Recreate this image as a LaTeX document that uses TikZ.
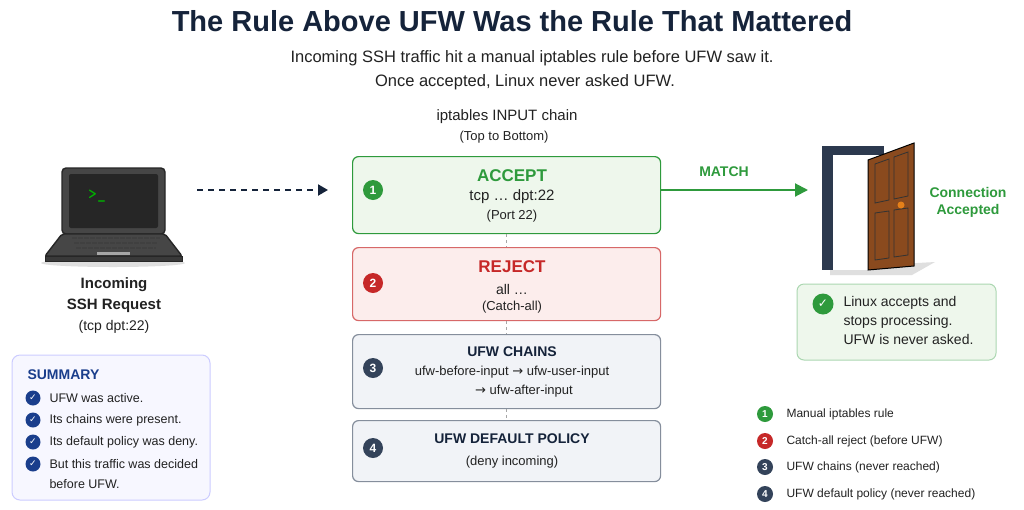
\documentclass[tikz,border=0pt]{standalone}
\usepackage{fontspec}
\setmainfont{Liberation Sans}
\newfontfamily\sym{DejaVu Sans}
\usetikzlibrary{arrows.meta,positioning}
\definecolor{navy}{HTML}{15233A}
\definecolor{gr}{HTML}{2E9A3C}
\definecolor{grfill}{HTML}{EEF7EC}
\definecolor{rd}{HTML}{C62828}
\definecolor{rdfill}{HTML}{FCEDEC}
\definecolor{sl}{HTML}{34435A}
\definecolor{slfill}{HTML}{F1F3F7}
\definecolor{bl}{HTML}{1A3E8C}
\definecolor{txt}{HTML}{222222}
\definecolor{wood}{HTML}{8A4A1E}
\begin{document}
\begin{tikzpicture}[x=1pt,y=-1pt,
 fs/.style={font=\fontsize{#1}{#1}\selectfont},
 rule/.style={draw=#1,line width=1.2pt,rounded corners=6pt,minimum width=308pt,anchor=north west,inner sep=0},
 num/.style={circle,fill=#1,text=white,inner sep=0,minimum size=20pt,font=\fontsize{12}{12}\selectfont\bfseries},
 lnum/.style={circle,fill=#1,text=white,inner sep=0,minimum size=16pt,font=\fontsize{10}{10}\selectfont\bfseries},
 chk/.style 2 args={circle,fill=#1,text=white,inner sep=0,minimum size=#2,font=\sym\fontsize{9}{9}\selectfont\bfseries},
 lt/.style={anchor=west,fs=12.5,text=txt},
]
\useasboundingbox (0,0) rectangle (1024,509);
\fill[white] (0,0) rectangle (1024,509);
\node[font=\bfseries\fontsize{29}{29}\selectfont,text=navy] (title) at (512,21) {The Rule Above UFW Was the Rule That Mattered};
\node[fs=16.5,text=txt] (sub1) at (532,58) {Incoming SSH traffic hit a manual iptables rule before UFW saw it.};
\node[fs=16.5,text=txt] (sub2) at (525,82) {Once accepted, Linux never asked UFW.};
\node[fs=15,text=txt] (chain) at (507,117) {iptables INPUT chain};
\node[fs=13,text=txt] (ttb) at (504,137) {(Top to Bottom)};
% rule boxes
\node[rule=gr,fill=grfill,minimum height=77pt] (r1) at (352,156) {};
\node[rule=rd!70,fill=rdfill,minimum height=73pt] (r2) at (352,247) {};
\node[rule=sl!60,fill=slfill,minimum height=74pt] (r3) at (352,334) {};
\node[rule=sl!60,fill=slfill,minimum height=61pt] (r4) at (352,420) {};
\draw[gray!70,dashed,line width=0.8pt] (r1.south) -- (r2.north);
\draw[gray!70,dashed,line width=0.8pt] (r2.south) -- (r3.north);
\draw[gray!70,dashed,line width=0.8pt] (r3.south) -- (r4.north);
\node[num=gr] (n1) at (373,190) {1};
\node[num=rd] (n2) at (373,283) {2};
\node[num=sl] (n3) at (373,368) {3};
\node[num=sl] (n4) at (373,448) {4};
\node[font=\bfseries\fontsize{17}{17}\selectfont,text=gr] (a1) at (512,176) {ACCEPT};
\node[fs=15,text=txt] (a2) at (512,197) {tcp \dots\ dpt:22};
\node[fs=13,text=txt] (a3) at (512,216) {(Port 22)};
\node[font=\bfseries\fontsize{17}{17}\selectfont,text=rd] (b1) at (512,267) {REJECT};
\node[fs=14,text=txt] (b2) at (512,289) {all \dots};
\node[fs=13,text=txt] (b3) at (512,307) {(Catch-all)};
\node[font=\bfseries\fontsize{14}{14}\selectfont,text=navy] (c1) at (512,352) {UFW CHAINS};
\node[fs=13,text=txt] (c2) at (512,372) {ufw-before-input {\sym→} ufw-user-input};
\node[fs=13,text=txt] (c3) at (524,391) {{\sym→} ufw-after-input};
\node[font=\bfseries\fontsize{14}{14}\selectfont,text=navy] (d1) at (512,439) {UFW DEFAULT POLICY};
\node[fs=13,text=txt] (d2) at (512,462) {(deny incoming)};
% laptop
\fill[gray!25] (113,263) ellipse (72 and 4);
\draw[fill=gray!55!black,line width=1.4pt,rounded corners=4pt,draw=black!85] (62,168) rectangle (165,234);
\fill[black!85,rounded corners=2pt] (69,174) rectangle (158,228);
\draw[fill=gray!55!black,draw=black!85,line width=1.4pt,rounded corners=2pt] (62,234) -- (165,234) -- (182,256) -- (45,256) -- cycle;
\draw[fill=gray!45!black,draw=black!85,line width=1pt] (45,256) rectangle (182,261);
\foreach \y in {238,243,248}{\draw[black!75,line width=2.5pt,dash pattern=on 5pt off 1pt] (72+0.4*\y-95,\y) -- (160-0.4*\y+95,\y);}
\fill[gray!70] (97,252) rectangle (130,255);
\node[text=green!70!black,font=\ttfamily\bfseries\fontsize{17}{17}\selectfont] (prompt) at (97,196) {>\_};
\coordinate (lap) at (197,190);
\node[font=\bfseries\fontsize{15}{15}\selectfont,text=txt] (in1) at (114,285) {Incoming};
\node[font=\bfseries\fontsize{15}{15}\selectfont,text=txt] (in2) at (114,306) {SSH Request};
\node[fs=14,text=txt] (in3) at (114,327) {(tcp dpt:22)};
\draw[navy,line width=2pt,dash pattern=on 6pt off 5pt,-{Triangle[length=10pt,width=11pt]}] (lap) -- (328,190);
% summary
\draw[draw=blue!20,fill=blue!3,line width=1pt,rounded corners=8pt] (12,355) rectangle (210,500);
\node[anchor=west,font=\bfseries\fontsize{14}{14}\selectfont,text=bl] (sum) at (24,375) {SUMMARY};
\foreach \y/\t [count=\i] in {398/UFW was active.,420/Its chains were present.,442/Its default policy was deny.,464/But this traffic was decided}{
 \node[chk={bl}{15pt}] (s\i) at (33,\y) {✓};
 \node[lt] (st\i) at (46,\y) {\t};}
\node[lt] (st5) at (46,484) {before UFW.};
% match
\coordinate (m0) at (660,190);
\coordinate (door) at (808,190);
\draw[gr,line width=2pt,-{Triangle[length=13pt,width=13pt]}] (m0) -- (door);
\node[font=\bfseries\fontsize{14}{14}\selectfont,text=gr] (match) at (724,172) {MATCH};
% door
\fill[gray!25] (830,268) -- (935,262) -- (912,275) -- (830,275) -- cycle;
\fill[navy!90] (822,146) rectangle (884,155);
\fill[navy!90] (822,146) rectangle (833,270);
\fill[white] (833,155) rectangle (868,270);
\draw[black,line width=1pt,fill=wood] (868,160) -- (914,143) -- (914,266) -- (868,270) -- cycle;
\draw[black!80,line width=0.8pt] (875,164) -- (889,159) -- (889,200) -- (875,203) -- cycle;
\draw[black!80,line width=0.8pt] (894,157) -- (908,152) -- (908,196) -- (894,199) -- cycle;
\draw[black!80,line width=0.8pt] (875,213) -- (889,211) -- (889,258) -- (875,260) -- cycle;
\draw[black!80,line width=0.8pt] (894,210) -- (908,208) -- (908,255) -- (894,257) -- cycle;
\fill[orange!60!brown] (901,205) circle (3.5);
\node[font=\bfseries\fontsize{14}{14}\selectfont,text=gr,align=center] (acc) at (968,202) {Connection\\[3pt]Accepted};
% note
\draw[draw=gr!40,fill=grfill,line width=1pt,rounded corners=7pt] (797,284) rectangle (996,360);
\node[chk={gr}{21pt},font=\sym\fontsize{12}{12}\selectfont\bfseries] (nchk) at (823,304) {✓};
\node[anchor=north west,align=left,font=\fontsize{14}{19}\selectfont,text=txt] (note) at (840,293) {Linux accepts and\\stops processing.\\UFW is never asked.};
% legend
\foreach \c/\y/\t [count=\i] in {gr/414/Manual iptables rule,rd/441/Catch-all reject (before UFW),sl/467/UFW chains (never reached),sl/494/UFW default policy (never reached)}{
 \node[lnum=\c] (l\i) at (765,\y) {\i};
 \node[lt,fs=12] (lt\i) at (783,\y) {\t};}
\end{tikzpicture}
\end{document}
